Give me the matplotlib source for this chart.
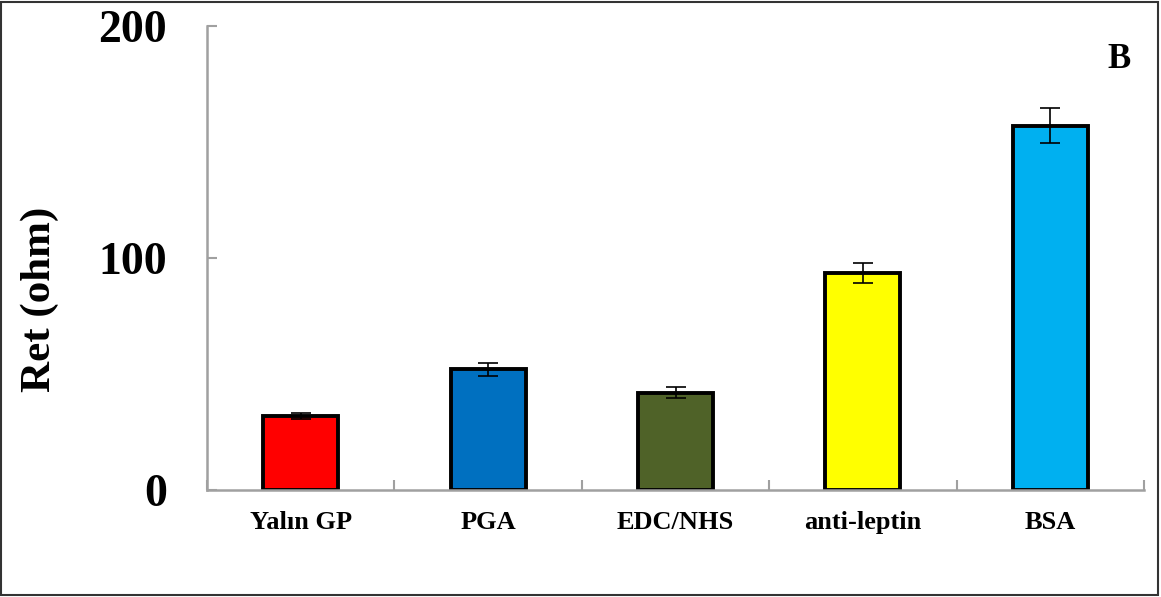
import matplotlib
matplotlib.use("Agg")
import matplotlib.pyplot as plt
import numpy as np
from matplotlib.patches import Rectangle

plt.rcParams["font.family"] = ["Liberation Serif", "DejaVu Serif"]

categories = ["Yalın GP", "PGA", "EDC/NHS", "anti-leptin", "BSA"]
values = [32, 52, 42, 93.5, 157]
errors = [1.2, 2.8, 2.2, 4.3, 7.5]
colors = ["#FF0000", "#0070C0", "#4F6228", "#FFFF00", "#00B0F0"]
yticks = [0, 100, 200]

fig = plt.figure(figsize=(11.61, 5.97), dpi=100)
ax = fig.add_axes([0.1783, 0.1792, 0.8071, 0.7772])

x = np.arange(len(categories))
ax.bar(x, values, width=0.4, color=colors, edgecolor="black", linewidth=2.8,
       yerr=errors, error_kw=dict(ecolor="black", elinewidth=1.2, capsize=7, capthick=1.2),
       zorder=2)

ax.set_xlim(-0.5, len(categories) - 0.5)
ax.set_ylim(0, 200)
ax.set_yticks(yticks)
ax.set_yticklabels([str(t) for t in yticks], fontsize=33, fontweight="bold")
ax.set_xticks(x)
ax.set_xticklabels(categories, fontsize=19, fontweight="bold")
ax.set_xticks(np.arange(-0.5, len(categories)), minor=True)

ax.tick_params(axis="x", which="major", length=0, pad=15)
ax.tick_params(axis="x", which="minor", direction="in", length=7, width=1.5, color="#A0A0A0")
ax.tick_params(axis="y", direction="in", length=7, width=1.5, color="#A0A0A0", pad=29)

for s in ["top", "right"]:
    ax.spines[s].set_visible(False)
for s in ["left", "bottom"]:
    ax.spines[s].set_color("#A0A0A0")
    ax.spines[s].set_linewidth(1.8)

ax.set_ylabel("Ret (ohm)", fontsize=31, fontweight="bold")
ax.yaxis.set_label_coords(-0.158, 0.41)

fig.text(0.964, 0.9, "B", fontsize=25, fontweight="bold", ha="center", va="center")

# frame around the whole picture
fig.patches.append(Rectangle((0.001, 0.004), 0.996, 0.993, transform=fig.transFigure,
                             fill=False, edgecolor="#333333", linewidth=1.5))

fig.savefig("out.png", dpi=100)
